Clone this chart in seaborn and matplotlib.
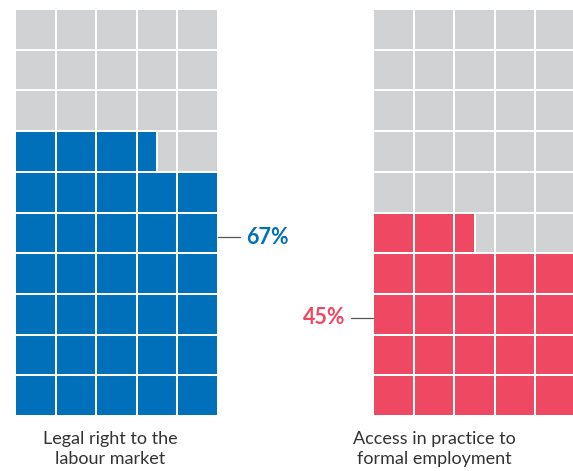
import numpy as np
import seaborn as sns
import matplotlib.pyplot as plt

# chart data
categories = ["Legal right to the\nlabour market", "Access in practice to\nformal employment"]
percents = [67, 45]
value_labels = ["67%", "45%"]
colors = ["#0070BA", "#EF4863"]
grey = "#D1D2D4"
n_cols = 5
n_rows = 10

sns.set_theme(style="white")
plt.rcParams['font.family'] = ['Lato', 'DejaVu Sans']

fig = plt.figure(figsize=(5.73, 4.71), dpi=100)
W, H = 573, 471
# axes placed in pixel coords: left, top, right, bottom
boxes = [(15, 9, 218, 416), (373, 9, 576, 416)]

cell_w = (218 - 15) / n_cols
cell_h = (416 - 9) / n_rows

def waffle(ax, pct, color):
    cells = pct / 100 * n_cols * n_rows
    full = int(cells)
    frac = cells - full
    for r in range(n_rows):
        ax.bar(np.arange(n_cols), 1, bottom=r, width=1, align='edge',
               color=grey, edgecolor='white', linewidth=1.45)
    for i in range(full):
        r, c = divmod(i, n_cols)
        ax.bar(c, 1, bottom=r, width=1, align='edge',
               color=color, edgecolor='white', linewidth=1.45)
    if frac > 0:
        r, c = divmod(full, n_cols)
        ax.bar(c, 1, bottom=r, width=frac, align='edge',
               color=color, edgecolor='white', linewidth=1.45)
    ax.set_xlim(0, n_cols)
    ax.set_ylim(0, n_rows)
    ax.set_axis_off()

axes = []
for (l, t, r, b) in boxes:
    ax = fig.add_axes([l / W, 1 - b / H, (r - l) / W, (b - t) / H])
    axes.append(ax)

for ax, pct, col, cat in zip(axes, percents, colors, categories):
    waffle(ax, pct, col)

# bottom labels (px centres converted to data units)
def px_to_data(ax_i, px, py):
    l, t, r, b = boxes[ax_i]
    return (px - l) / cell_w, (b - py) / cell_h

for i, (cx, cat) in enumerate(zip([110, 434], categories)):
    x, y = px_to_data(i, cx, 449)
    axes[i].text(x, y, cat, ha='center', va='center', fontsize=13,
                 color='#333333', linespacing=1.3)

# value callouts
x0, y0 = px_to_data(0, 218, 237)
x1, _ = px_to_data(0, 240, 237)
xt, _ = px_to_data(0, 246, 237)
axes[0].plot([x0, x1], [y0, y0], color='#555555', lw=0.9, clip_on=False)
axes[0].text(xt, y0, value_labels[0], ha='left', va='center', fontsize=15.5,
             fontweight='bold', color=colors[0])

x0, y0 = px_to_data(1, 373, 318)
x1, _ = px_to_data(1, 351, 318)
xt, _ = px_to_data(1, 345, 318)
axes[1].plot([x1, x0], [y0, y0], color='#555555', lw=0.9, clip_on=False)
axes[1].text(xt, y0, value_labels[1], ha='right', va='center', fontsize=15.5,
             fontweight='bold', color=colors[1])

plt.savefig('out.png', dpi=100)
